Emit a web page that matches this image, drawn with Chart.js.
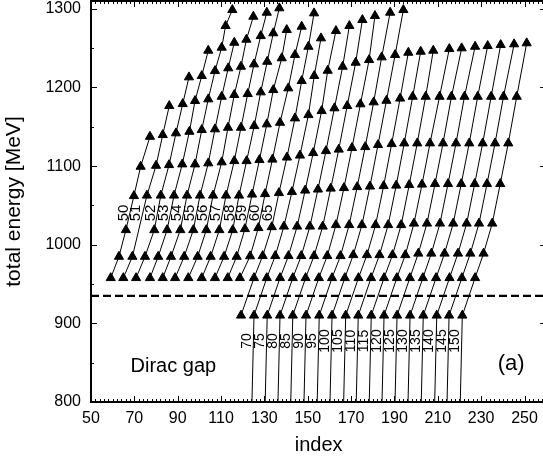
<!DOCTYPE html>
<html lang="en">
<head>
<meta charset="UTF-8">
<title>Total energy vs index</title>
<style>
  html, body { margin: 0; padding: 0; background: #fff; overflow: hidden; }
  .plot { width: 543px; height: 461px; overflow: hidden; }
  canvas { display: block; }
</style>
</head>
<body>
<div class="plot"><canvas id="levelChart" width="547" height="461"></canvas></div>
<script src="https://cdn.jsdelivr.net/npm/chart.js@4.4.0/dist/chart.umd.min.js"></script>
<script>
// index and total energy (MeV) of the levels, one pair of lists per curve
const idx50 = [59.1, 62.9, 66.1, 69.8, 72.9, 77.2];
const mev50 = [957.8, 984.9, 1018.8, 1062.1, 1099.4, 1137.5];
const idx51 = [64.9, 69.1, 75.8, 80.0, 83.1, 86.1];
const mev51 = [957.8, 984.9, 1062.7, 1100.6, 1139.7, 1176.6];
const idx52 = [70.8, 74.9, 79.2, 82.2, 86.0, 89.2, 92.3, 95.2];
const mev52 = [957.8, 984.9, 1018.8, 1062.7, 1101.5, 1141.9, 1179.1, 1213.1];
const idx53 = [77.2, 81.0, 85.1, 88.3, 92.1, 95.4, 98.0, 101.1, 104.1];
const mev53 = [957.8, 984.9, 1018.8, 1062.7, 1102.4, 1143.9, 1183.0, 1214.8, 1247.0];
const idx54 = [83.1, 86.9, 91.2, 94.3, 98.0, 101.1, 104.1, 107.2, 110.3, 112.1, 115.2];
const mev54 = [957.8, 984.9, 1018.8, 1062.7, 1102.4, 1146.1, 1185.1, 1221.1, 1250.8, 1278.4, 1298.7];
const idx55 = [88.8, 93.0, 97.2, 100.3, 104.1, 107.2, 110.3, 113.3, 116.1];
const mev55 = [957.8, 984.9, 1018.8, 1062.7, 1103.7, 1147.0, 1188.4, 1224.6, 1257.1];
const idx56 = [94.9, 99.2, 103.2, 106.3, 110.3, 113.2, 116.1, 119.2, 121.7, 124.9];
const mev56 = [957.8, 984.9, 1018.8, 1062.7, 1105.0, 1149.0, 1190.6, 1226.6, 1261.0, 1290.2];
const idx57 = [101.1, 105.2, 109.2, 112.3, 116.1, 119.2, 122.3, 125.2, 128.3, 131.1];
const mev57 = [957.8, 984.9, 1018.8, 1062.7, 1106.6, 1149.0, 1191.9, 1229.6, 1265.6, 1295.3];
const idx58 = [107.2, 111.4, 115.4, 118.3, 121.8, 125.3, 128.3, 131.3, 134.1, 136.9];
const mev58 = [957.8, 984.9, 1018.8, 1062.7, 1106.6, 1151.1, 1194.0, 1232.9, 1269.1, 1300.9];
const idx59 = [113.1, 117.2, 121.0, 124.3, 127.7, 131.1, 134.1, 138.0, 140.3];
const mev59 = [957.8, 984.9, 1020.1, 1064.0, 1107.9, 1153.3, 1196.9, 1237.3, 1273.3];
const idx60 = [118.7, 123.4, 127.2, 130.3, 133.7, 137.2, 141.0, 144.1, 147.2];
const mev60 = [957.8, 985.5, 1021.4, 1064.6, 1108.5, 1155.3, 1199.1, 1241.5, 1277.5];
const idx65 = [119.2, 125.2, 129.2, 133.4, 136.7, 140.4, 144.1, 147.2, 150.3, 152.9];
const mev65 = [910.1, 957.8, 985.8, 1022.6, 1065.9, 1111.1, 1160.9, 1208.4, 1252.0, 1294.5];
// from 70 on the lowest level lies below the gap, first point off the bottom
const idx70 = [123.4, 125.2, 131.1, 135.0, 139.0, 142.7, 146.4, 150.3, 153.0, 156.1];
const mev70 = [700, 910.1, 957.8, 985.8, 1023.3, 1067.2, 1113.6, 1165.1, 1214.8, 1262.7];
const idx75 = [129.5, 131.3, 137.2, 141.1, 145.1, 148.8, 152.5, 156.4, 159.2, 163.0];
const mev75 = [700, 910.1, 957.8, 985.8, 1023.3, 1069.1, 1116.8, 1170.2, 1221.5, 1272.0];
const idx80 = [135.4, 137.2, 143.1, 147.0, 151.0, 154.7, 158.4, 162.3, 166.1, 169.2];
const mev80 = [700, 910.1, 957.8, 985.8, 1023.3, 1070.4, 1119.3, 1173.7, 1226.6, 1278.4];
const idx85 = [141.3, 143.1, 149.0, 152.9, 156.9, 160.6, 164.3, 168.2, 172.1, 175.2];
const mev85 = [700, 910.1, 957.8, 985.8, 1023.3, 1071.6, 1121.2, 1176.6, 1231.7, 1286.0];
const idx90 = [147.4, 149.2, 155.1, 159.0, 163.0, 166.7, 170.4, 174.3, 178.3, 181.0];
const mev90 = [700, 910.1, 957.8, 985.8, 1025.2, 1072.3, 1123.2, 1178.8, 1235.1, 1291.1];
const idx95 = [153.5, 155.3, 161.2, 165.1, 169.1, 172.8, 176.5, 180.4, 184.1, 188.0];
const mev95 = [700, 910.1, 957.8, 985.8, 1025.2, 1073.5, 1124.4, 1181.3, 1238.5, 1295.3];
const idx100 = [159.4, 161.2, 167.1, 171.0, 175.0, 178.7, 182.4, 186.3, 190.3, 194.1];
const mev100 = [700, 910.1, 957.8, 987.0, 1025.2, 1074.2, 1127.0, 1183.3, 1241.5, 1298.7];
const idx105 = [165.7, 167.5, 173.4, 177.3, 181.3, 185.0, 188.7, 192.6, 196.4];
const mev105 = [700, 910.1, 957.8, 987.0, 1025.2, 1074.8, 1128.2, 1186.1, 1244.4];
const idx110 = [171.5, 173.3, 179.2, 183.1, 187.1, 190.8, 194.5, 198.4, 202.1];
const mev110 = [700, 910.1, 957.8, 987.0, 1025.2, 1075.4, 1129.1, 1188.4, 1245.7];
const idx115 = [177.5, 179.3, 185.2, 189.1, 193.1, 196.8, 200.5, 204.4, 207.9];
const mev115 = [700, 910.1, 957.8, 987.0, 1025.2, 1076.1, 1129.1, 1188.4, 1247.0];
const idx120 = [183.4, 185.2, 191.1, 195.0, 199.0, 202.7, 206.4, 210.8, 215.3];
const mev120 = [700, 910.1, 957.8, 987.0, 1027.1, 1076.7, 1129.1, 1188.4, 1249.1];
const idx125 = [189.4, 191.2, 197.1, 201.0, 205.0, 208.7, 212.4, 216.3, 221.0];
const mev125 = [700, 910.1, 957.8, 988.9, 1027.1, 1077.4, 1129.1, 1188.4, 1250.0];
const idx130 = [195.4, 197.2, 203.1, 207.0, 211.0, 214.7, 218.4, 222.3, 227.2];
const mev130 = [700, 910.1, 957.8, 988.9, 1027.1, 1077.4, 1129.1, 1188.4, 1252.0];
const idx135 = [201.5, 203.3, 209.2, 213.1, 217.1, 220.8, 224.5, 228.4, 233.0];
const mev135 = [700, 910.1, 957.8, 988.9, 1027.1, 1077.4, 1129.1, 1188.4, 1252.9];
const idx140 = [207.7, 209.5, 215.4, 219.3, 223.3, 227.0, 230.7, 234.6, 239.0];
const mev140 = [700, 910.1, 957.8, 988.9, 1027.1, 1077.4, 1129.1, 1188.4, 1254.2];
const idx145 = [213.4, 215.2, 221.1, 225.0, 229.0, 232.7, 236.4, 240.3, 245.2];
const mev145 = [700, 910.1, 957.8, 988.9, 1027.1, 1077.4, 1129.1, 1188.4, 1255.1];
const idx150 = [219.5, 221.3, 227.2, 231.1, 235.1, 238.8, 242.5, 246.4, 251.0];
const mev150 = [700, 910.1, 957.8, 988.9, 1027.1, 1077.4, 1129.1, 1188.4, 1256.4];

const gapEnergy = 935;
const xTicks = [50, 70, 90, 110, 130, 150, 170, 190, 210, 230, 250];
const yTicks = [800, 900, 1000, 1100, 1200, 1300];

const curves = [
  [50, idx50, mev50], [51, idx51, mev51], [52, idx52, mev52], [53, idx53, mev53],
  [54, idx54, mev54], [55, idx55, mev55], [56, idx56, mev56], [57, idx57, mev57],
  [58, idx58, mev58], [59, idx59, mev59], [60, idx60, mev60], [65, idx65, mev65],
  [70, idx70, mev70], [75, idx75, mev75], [80, idx80, mev80], [85, idx85, mev85],
  [90, idx90, mev90], [95, idx95, mev95], [100, idx100, mev100], [105, idx105, mev105],
  [110, idx110, mev110], [115, idx115, mev115], [120, idx120, mev120], [125, idx125, mev125],
  [130, idx130, mev130], [135, idx135, mev135], [140, idx140, mev140], [145, idx145, mev145],
  [150, idx150, mev150]
];

const FONT = '"Liberation Sans", Arial, sans-serif';

// index of a curve at a given energy, by linear interpolation
function indexAt(idx, mev, e) {
  for (let i = 0; i < mev.length - 1; i++) {
    if (e >= mev[i] && e <= mev[i + 1]) {
      return idx[i] + (idx[i + 1] - idx[i]) * (e - mev[i]) / (mev[i + 1] - mev[i]);
    }
  }
  return idx[0];
}

// gnuplot style frame: inward ticks on all four sides, labels, texts
const framePlugin = {
  id: 'frame',
  afterDatasetsDraw(chart) {
    const { ctx, chartArea: a, scales: { x, y } } = chart;
    const seg = (x1, y1, x2, y2) => { ctx.beginPath(); ctx.moveTo(x1, y1); ctx.lineTo(x2, y2); ctx.stroke(); };
    ctx.save();
    ctx.strokeStyle = '#000';
    ctx.fillStyle = '#000';

    ctx.lineWidth = 1;
    for (let v = 50; v <= 260; v += 2) {
      const px = Math.round(x.getPixelForValue(v)) + 0.5;
      const len = (v - 50) % 20 === 0 ? 6 : 3;
      seg(px, a.bottom, px, a.bottom - len);
      seg(px, a.top, px, a.top + len);
    }
    for (let v = 800; v <= 1300; v += 50) {
      const py = Math.round(y.getPixelForValue(v)) + 0.5;
      const len = v % 100 === 0 ? 6 : 3;
      seg(a.left, py, a.left + len, py);
      seg(a.right, py, a.right - len, py);
    }
    ctx.lineWidth = 2;
    ctx.strokeRect(a.left, a.top, a.right - a.left, a.bottom - a.top);

    // tick labels
    ctx.font = '16px ' + FONT;
    ctx.textAlign = 'right';
    ctx.textBaseline = 'middle';
    yTicks.forEach(v => ctx.fillText(String(v), a.left - 10, y.getPixelForValue(v)));
    ctx.textAlign = 'center';
    xTicks.forEach(v => ctx.fillText(String(v), x.getPixelForValue(v), a.bottom + 17));

    // axis titles
    ctx.font = '20px ' + FONT;
    ctx.fillText('index', (a.left + a.right) / 2, a.bottom + 43);
    ctx.save();
    ctx.font = '21px ' + FONT;
    ctx.translate(14, (a.top + a.bottom) / 2);
    ctx.rotate(-Math.PI / 2);
    ctx.fillText('total energy [MeV]', 0, 0);
    ctx.restore();

    ctx.font = '20px ' + FONT;
    ctx.fillText('Dirac gap', x.getPixelForValue(88), y.getPixelForValue(845));
    ctx.font = '22px ' + FONT;
    ctx.fillText('(a)', x.getPixelForValue(243.8), y.getPixelForValue(848));

    // curve labels, just left of each line
    curves.forEach(([n, idx, mev]) => {
      const upper = n <= 65;
      const e = upper ? 1040.5 : 877.6;
      const px = x.getPixelForValue(indexAt(idx, mev, e)) - 6.5;
      ctx.font = (upper ? '15px ' : '14px ') + FONT;
      ctx.save();
      ctx.translate(px, y.getPixelForValue(e));
      ctx.rotate(-Math.PI / 2);
      ctx.fillText(String(n), 0, 0);
      ctx.restore();
    });
    ctx.restore();
  }
};

const datasets = curves.map(([n, idx, mev]) => ({
  label: String(n),
  data: idx.map((v, i) => ({ x: v, y: mev[i] })),
  borderColor: '#000',
  backgroundColor: '#000',
  borderWidth: 1,
  pointStyle: 'triangle',
  pointRadius: 5.3,
  pointBorderWidth: 1,
  tension: 0,
  clip: 0
}));

datasets.push({
  label: 'gap',
  data: [{ x: 50, y: gapEnergy }, { x: 260, y: gapEnergy }],
  borderColor: '#000',
  borderWidth: 2.3,
  borderDash: [8, 4],
  pointRadius: 0,
  clip: 0
});

new Chart(document.getElementById('levelChart'), {
  type: 'line',
  data: { datasets },
  options: {
    responsive: false,
    animation: false,
    layout: { autoPadding: false, padding: { left: 91, right: 0.8, top: 1, bottom: 59 } },
    scales: {
      x: { type: 'linear', min: 50, max: 260, display: false },
      y: { type: 'linear', min: 800, max: 1310, display: false }
    },
    plugins: { legend: { display: false }, tooltip: { enabled: false } }
  },
  plugins: [framePlugin]
});
</script>
</body>
</html>
